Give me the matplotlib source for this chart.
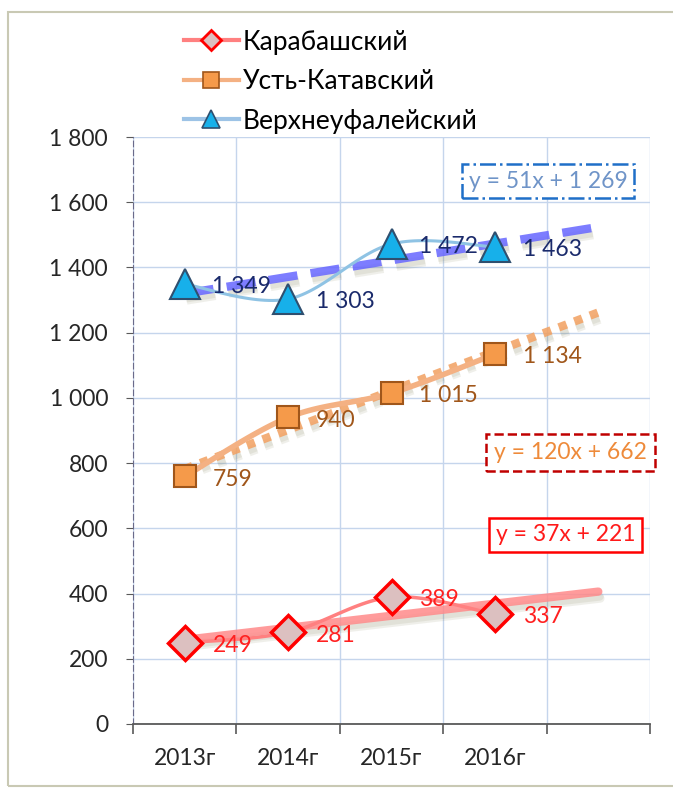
import numpy as np
import matplotlib
matplotlib.use("Agg")
import matplotlib.pyplot as plt
import matplotlib.patheffects as pe
from matplotlib.lines import Line2D
from matplotlib.patches import Rectangle

""" Data """
years = ["2013г", "2014г", "2015г", "2016г", ""]
karabash = [249, 281, 389, 337]
ust_katav = [759, 940, 1015, 1134]
verkhneufaley = [1349, 1303, 1472, 1463]
names = ["Карабашский", "Усть-Катавский", "Верхнеуфалейский"]
# trend coefficients (slope, intercept) as printed on the chart, x = 1..5
trend_k = (37, 221)
trend_u = (120, 662)
trend_v = (51, 1269)

plt.rcParams['font.family'] = ['Lato', 'DejaVu Sans']


def fmt(v):
    return f"{v:,}".replace(",", " ")


def smooth(y, n=30):
    """ Excel-like smoothed line (cubic bezier through the points) """
    x = np.arange(len(y), dtype=float)
    y = np.asarray(y, dtype=float)
    xs, ys = [], []
    for i in range(len(y) - 1):
        p0 = np.array([x[max(i - 1, 0)], y[max(i - 1, 0)]])
        p1 = np.array([x[i], y[i]])
        p2 = np.array([x[i + 1], y[i + 1]])
        p3 = np.array([x[min(i + 2, len(y) - 1)], y[min(i + 2, len(y) - 1)]])
        c1 = p1 + (p2 - p0) / 6
        c2 = p2 - (p3 - p1) / 6
        t = np.linspace(0, 1, n)[:, None]
        b = ((1 - t) ** 3) * p1 + 3 * ((1 - t) ** 2) * t * c1 + 3 * (1 - t) * t ** 2 * c2 + t ** 3 * p2
        xs.extend(b[:, 0])
        ys.extend(b[:, 1])
    return xs, ys


fig = plt.figure(figsize=(6.73, 7.96), dpi=100)
fig.patches.append(Rectangle((8 / 673, 10 / 796), 1, 774 / 796, transform=fig.transFigure,
                             fill=False, ec="#c9c9b4", lw=1.5, zorder=0))
ax = fig.add_axes([133 / 673, 72 / 796, 517 / 673, 587 / 796])

ax.set_xlim(-0.5, 4.5)
ax.set_ylim(0, 1800)
ax.set_yticks(np.arange(0, 1801, 200))
ax.set_yticklabels([fmt(v) for v in range(0, 1801, 200)], fontsize=16.5, color="#262626")
ax.set_xticks(range(5))
ax.set_xticklabels(years, fontsize=16.5, color="#262626")
ax.set_xticks(np.arange(-0.5, 4.6, 1), minor=True)
ax.tick_params(axis="x", which="major", length=0, pad=17)
ax.tick_params(axis="x", which="minor", length=7, direction="out", color="#595959", width=1.2)
ax.tick_params(axis="y", length=5, direction="out", color="#595959", pad=13)
ax.grid(True, axis="y", color="#c5d5ec", lw=1)
ax.grid(True, axis="x", which="minor", color="#c5d5ec", lw=1)
for s in ["top", "right"]:
    ax.spines[s].set_visible(False)
ax.spines["left"].set_linestyle((0, (5, 3)))
ax.spines["left"].set_color("#6a6a8a")
ax.spines["bottom"].set_color("#595959")
ax.spines["bottom"].set_linewidth(1.3)

xi = np.arange(4)
xt = np.arange(5)
shadow = [pe.SimpleLineShadow(offset=(1.5, -5), shadow_color="#6b6b3a", alpha=0.10),
          pe.SimpleLineShadow(offset=(1, -3.5), shadow_color="#6b6b3a", alpha=0.10),
          pe.Normal()]

""" Trend lines """
ax.plot(xt, trend_k[0] * (xt + 1) + trend_k[1], color="#ff8a8a", lw=6, alpha=0.85,
        solid_capstyle="round", path_effects=shadow, zorder=2)
ax.plot(xt, trend_u[0] * (xt + 1) + trend_u[1], color="#f2a060", lw=6, alpha=0.85,
        linestyle=(0, (1, 1)), dash_capstyle="butt", path_effects=shadow, zorder=2)
ax.plot(xt, trend_v[0] * (xt + 1) + trend_v[1], color="#6666ff", lw=6, alpha=0.85,
        linestyle=(0, (3.5, 1.6)), path_effects=shadow, zorder=2)

""" Series """
sx, sy = smooth(karabash)
ax.plot(sx, sy, color="#ff8080", lw=2.5, zorder=3)
ax.plot(xi, karabash, ls="none", marker="D", ms=17.5, mfc="#dcc0c0", mec="#ff0000", mew=2.5, zorder=4)
sx, sy = smooth(ust_katav)
ax.plot(sx, sy, color="#f4b183", lw=4, zorder=3)
ax.plot(xi, ust_katav, ls="none", marker="s", ms=15.5, mfc="#f59a4a", mec="#a0561a", mew=1.5, zorder=4)
sx, sy = smooth(verkhneufaley)
ax.plot(sx, sy, color="#8fc3e4", lw=2.2, zorder=3)
ax.plot(xi, verkhneufaley, ls="none", marker="^", ms=22, mfc="#17b0ea", mec="#2f4f6f", mew=1.5, zorder=4)

""" Data labels """
for vals, col in [(karabash, "#ff2020"), (ust_katav, "#a0561a"), (verkhneufaley, "#1a2a6b")]:
    for i, v in enumerate(vals):
        ax.annotate(fmt(v), (i, v), xytext=(20, -2), textcoords="offset points",
                    ha="left", va="center", fontsize=16.5, color=col, zorder=5)

""" Equation boxes """
ax.text(0.803, 0.925, "y = 51x + 1 269", transform=ax.transAxes, ha="center", va="center",
        fontsize=16.5, color="#6f94c8",
        bbox=dict(boxstyle="square,pad=0.3", fc="white", ec="#1f6fc8", lw=1.8, ls="-."))
ax.text(0.847, 0.462, "y = 120x + 662", transform=ax.transAxes, ha="center", va="center",
        fontsize=16.5, color="#ee8a3a",
        bbox=dict(boxstyle="square,pad=0.35", fc="white", ec="#c00000", lw=1.8, ls="--"))
ax.text(0.837, 0.322, "y = 37x + 221", transform=ax.transAxes, ha="center", va="center",
        fontsize=16.5, color="#ff1a1a",
        bbox=dict(boxstyle="square,pad=0.3", fc="white", ec="#ff0000", lw=1.8))

""" Legend """
handles = [
    Line2D([], [], color="#ff8080", lw=3, marker="D", ms=10, mfc="#dcc0c0", mec="#ff0000", mew=2),
    Line2D([], [], color="#f4b183", lw=3, marker="s", ms=11, mfc="#f59a4a", mec="#a0561a", mew=1.2),
    Line2D([], [], color="#9dc3e6", lw=3, marker="^", ms=13, mfc="#17b0ea", mec="#2f4f6f", mew=1.2),
]
fig.legend(handles, names, loc="upper left", bbox_to_anchor=(173 / 673, 0.976), frameon=False,
           fontsize=19, handlelength=2.1, labelspacing=0.55, handletextpad=0.15,
           borderaxespad=0, borderpad=0.4)

plt.savefig("out.png", dpi=100)
